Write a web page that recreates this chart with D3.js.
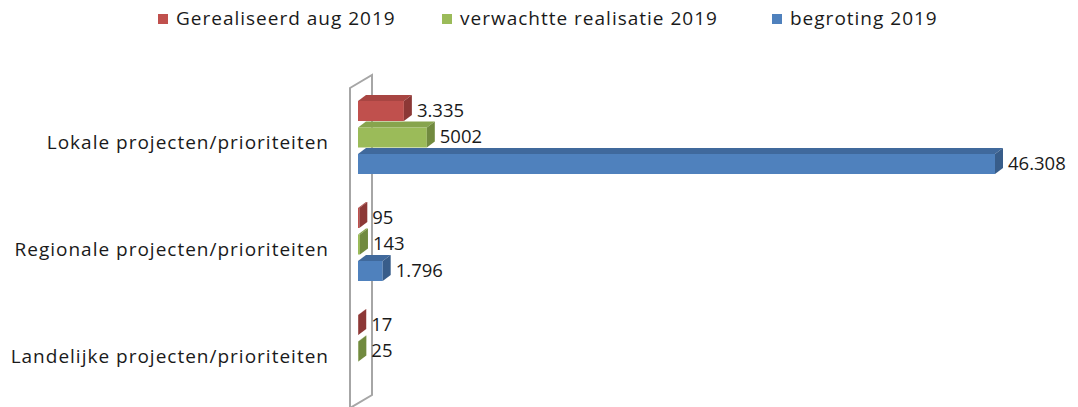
<!DOCTYPE html>
<html>
<head>
<meta charset="utf-8">
<script src="https://cdn.jsdelivr.net/npm/d3@7"></script>
<style>
  body { margin: 0; background: #fff; }
  svg { display: block; font-family: "Open Sans", "Noto Sans", sans-serif; }
</style>
</head>
<body>
<svg width="1078" height="407"></svg>
<script>
// categories (top to bottom) and series
var categories = ["Lokale projecten/prioriteiten", "Regionale projecten/prioriteiten", "Landelijke projecten/prioriteiten"];
var seriesNames = ["Gerealiseerd aug 2019", "verwachtte realisatie 2019", "begroting 2019"];

// values per series, same order as categories
var gerealiseerd = [3335, 95, 17];
var verwacht = [5002, 143, 25];
var begroting = [46308, 1796, null];

// data labels as printed on the chart
var gerealiseerdLabels = ["3.335", "95", "17"];
var verwachtLabels = ["5002", "143", "25"];
var begrotingLabels = ["46.308", "1.796", ""];

var colors = {
  "Gerealiseerd aug 2019": { front: "#C0504D", top: "#A84542", side: "#8C3836" },
  "verwachtte realisatie 2019": { front: "#9BBB59", top: "#87A44D", side: "#718A3F" },
  "begroting 2019": { front: "#4F81BD", top: "#40699C", side: "#385D8A" }
};

var seriesValues = [gerealiseerd, verwacht, begroting];
var seriesLabels = [gerealiseerdLabels, verwachtLabels, begrotingLabels];

var data = [];
seriesNames.forEach(function(s, si) {
  categories.forEach(function(c, ci) {
    if (seriesValues[si][ci] == null) return;
    data.push({ cat: c, series: s, value: seriesValues[si][ci], label: seriesLabels[si][ci] });
  });
});

var svg = d3.select("svg");
var dx = 8, dy = -6; // 3d depth offset

var x = d3.scaleLinear().domain([0, d3.max(begroting)]).range([358, 995]);
var y0 = d3.scaleBand().domain(categories).range([89.5, 410.5]);
var y1 = d3.scaleBand().domain(seriesNames).range([-42, 31]).paddingInner(0.245);

// the side wall
svg.append("path")
  .attr("d", "M350,88 L372,75 L372,395 L350,408 Z")
  .attr("fill", "#fff")
  .attr("stroke", "#A6A6A6")
  .attr("stroke-width", 2);
svg.append("line")
  .attr("x1", 350).attr("x2", 350).attr("y1", 88).attr("y2", 407)
  .attr("stroke", "#A6A6A6").attr("stroke-width", 2);

function barTop(d) {
  return y0(d.cat) + y0.bandwidth() / 2 + y1(d.series);
}

var bw = y1.bandwidth();
var bars = svg.append("g").selectAll("g").data(data).enter().append("g");

// top face
bars.append("path")
  .attr("fill", function(d) { return colors[d.series].top; })
  .attr("d", function(d) {
    var x0 = x(0), x1 = x(d.value), t = barTop(d);
    return "M" + x0 + "," + t + "L" + (x0 + dx) + "," + (t + dy) + "L" + (x1 + dx) + "," + (t + dy) + "L" + x1 + "," + t + "Z";
  });

// front face
bars.append("rect")
  .attr("x", x(0))
  .attr("y", barTop)
  .attr("width", function(d) { return x(d.value) - x(0); })
  .attr("height", bw)
  .attr("fill", function(d) { return colors[d.series].front; });

// side face
bars.append("path")
  .attr("fill", function(d) { return colors[d.series].side; })
  .attr("d", function(d) {
    var x1 = x(d.value), t = barTop(d);
    return "M" + x1 + "," + t + "L" + (x1 + dx) + "," + (t + dy) + "L" + (x1 + dx) + "," + (t + dy + bw) + "L" + x1 + "," + (t + bw) + "Z";
  });

// data labels
bars.append("text")
  .attr("x", function(d) { return x(d.value) + dx + 5; })
  .attr("y", function(d) { return barTop(d) + bw / 2 + 1; })
  .attr("dominant-baseline", "middle")
  .attr("font-size", 18.5)
  .attr("fill", "#1a1a1a")
  .text(function(d) { return d.label; });

// category axis
var yAxis = svg.append("g")
  .attr("transform", "translate(337,0)")
  .call(d3.axisLeft(y0).tickSize(0).tickPadding(8));
yAxis.select(".domain").remove();
yAxis.selectAll("text")
  .attr("font-size", 19)
  .attr("letter-spacing", 1)
  .attr("font-family", "\"Open Sans\", sans-serif")
  .attr("fill", "#1a1a1a");

// legend
var legendX = [158, 442, 772];
var legend = svg.append("g").selectAll("g").data(seriesNames).enter().append("g")
  .attr("transform", function(d, i) { return "translate(" + legendX[i] + ",14)"; });
legend.append("rect")
  .attr("width", 10).attr("height", 10)
  .attr("fill", function(d) { return colors[d].front; });
legend.append("text")
  .attr("x", 18).attr("y", 6)
  .attr("dominant-baseline", "middle")
  .attr("font-size", 19)
  .attr("letter-spacing", 1)
  .attr("fill", "#1a1a1a")
  .text(function(d) { return d; });
</script>
</body>
</html>
